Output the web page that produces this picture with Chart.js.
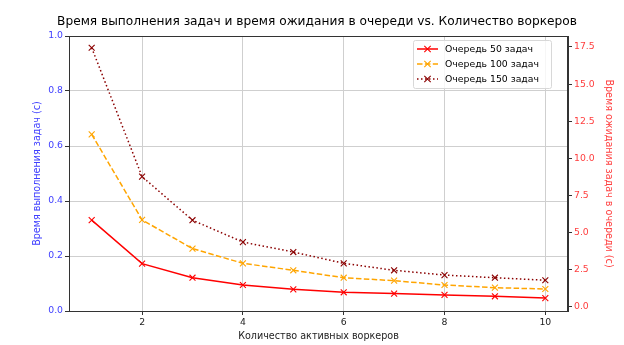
<!DOCTYPE html>
<html>
<head>
<meta charset="utf-8">
<script src="https://cdn.jsdelivr.net/npm/chart.js@4.4.1/dist/chart.umd.min.js"></script>
<style>
  html, body { margin: 0; padding: 0; background: #fff; }
  #wrap { width: 624px; height: 345px; }
</style>
</head>
<body>
<div id="wrap"><canvas id="chart"></canvas></div>
<script>
// данные: количество воркеров и время ожидания в очереди (с)
const workers = [1, 2, 3, 4, 5, 6, 7, 8, 9, 10];
const wait50 = [5.85, 2.92, 1.97, 1.48, 1.19, 0.99, 0.90, 0.81, 0.72, 0.60];
const wait100 = [11.62, 5.86, 3.93, 2.94, 2.47, 1.97, 1.77, 1.48, 1.30, 1.21];
const wait150 = [17.45, 8.77, 5.84, 4.37, 3.70, 2.94, 2.47, 2.15, 1.97, 1.80];
const xTicks = [2, 4, 6, 8, 10];
const rightTicks = [0, 2.5, 5, 7.5, 10, 12.5, 15, 17.5];

const FONT = 'DejaVu Sans';
const TICK = 9.3, LABEL = 9.6;
const toXY = arr => arr.map((v, i) => ({ x: workers[i], y: v }));

// рамка, заголовок и легенда в стиле matplotlib
const decor = {
  id: 'decor',
  afterDraw(chart) {
    const { ctx, chartArea: a } = chart;
    ctx.save();
    ctx.strokeStyle = '#333';
    ctx.lineWidth = 1;
    ctx.strokeRect(Math.round(a.left) + 0.5, Math.round(a.top) + 0.5,
      Math.round(a.right - a.left) - 1, Math.round(a.bottom - a.top));

    ctx.fillStyle = '#000';
    ctx.font = `12.2px "${FONT}"`;
    ctx.textAlign = 'center';
    ctx.textBaseline = 'middle';
    ctx.fillText('Время выполнения задач и время ожидания в очереди vs. Количество воркеров', 317, 22);

    // легенда
    const lx = 413, ly = 40, lw = 138, lh = 48;
    ctx.fillStyle = 'rgba(255,255,255,0.8)';
    ctx.strokeStyle = '#d8d8d8';
    ctx.beginPath();
    ctx.roundRect(lx + 0.5, ly + 0.5, lw, lh, 2);
    ctx.fill();
    ctx.stroke();
    ctx.font = `${TICK}px "${FONT}"`;
    ctx.textAlign = 'left';
    chart.data.datasets.forEach((ds, i) => {
      const y = ly + 9 + i * 15;
      ctx.strokeStyle = ds.borderColor;
      ctx.lineWidth = ds.borderWidth;
      ctx.setLineDash(ds.borderDash || []);
      ctx.beginPath();
      ctx.moveTo(lx + 4, y);
      ctx.lineTo(lx + 25, y);
      ctx.stroke();
      ctx.setLineDash([]);
      ctx.lineWidth = 1.1;
      const cx = lx + 14.5, r = 3.2;
      ctx.beginPath();
      ctx.moveTo(cx - r, y - r); ctx.lineTo(cx + r, y + r);
      ctx.moveTo(cx - r, y + r); ctx.lineTo(cx + r, y - r);
      ctx.stroke();
      ctx.fillStyle = '#000';
      ctx.fillText(ds.label, lx + 32, y + 0.5);
    });
    ctx.restore();
  }
};

const mkSet = (label, data, color, dash) => ({
  label,
  data: toXY(data),
  yAxisID: 'y1',
  borderColor: color,
  backgroundColor: color,
  borderWidth: 1.5,
  borderDash: dash,
  pointStyle: 'crossRot',
  pointRadius: 4.2,
  pointBorderWidth: 1.1,
  pointBorderColor: color,
  tension: 0,
  fill: false
});

new Chart(document.getElementById('chart'), {
  type: 'line',
  data: {
    datasets: [
      mkSet('Очередь 50 задач', wait50, '#ff0000', []),
      mkSet('Очередь 100 задач', wait100, '#ffa500', [5.5, 2.4]),
      mkSet('Очередь 150 задач', wait150, '#8b0000', [1.5, 2.5])
    ]
  },
  options: {
    responsive: true,
    maintainAspectRatio: false,
    animation: false,
    layout: { padding: { top: 36, left: 28, right: 0, bottom: 0 } },
    plugins: { legend: { display: false }, title: { display: false }, tooltip: { enabled: false } },
    scales: {
      x: {
        type: 'linear',
        min: 0.55,
        max: 10.45,
        afterBuildTicks: s => { s.ticks = xTicks.map(v => ({ value: v })); },
        afterFit: s => { s.height = 34; },
        grid: { color: '#cfcfcf', tickColor: '#333', tickLength: 4, drawOnChartArea: true },
        border: { color: '#333' },
        ticks: { color: '#222', font: { family: FONT, size: TICK }, padding: 2 },
        title: { display: true, text: 'Количество активных воркеров', color: '#222',
          font: { family: FONT, size: LABEL }, padding: { top: 0, bottom: 3 } }
      },
      y: {
        position: 'left',
        min: 0,
        max: 1,
        afterFit: s => { s.width = 41; },
        grid: { color: '#cfcfcf', tickColor: '#333', tickLength: 4 },
        border: { color: '#333' },
        ticks: { stepSize: 0.2, color: '#4040ff', font: { family: FONT, size: TICK }, padding: 2,
          callback: v => v.toFixed(1) },
        title: { display: true, text: 'Время выполнения задач (с)', color: '#4040ff',
          font: { family: FONT, size: LABEL }, padding: { top: 4, bottom: 0 } }
      },
      y1: {
        position: 'right',
        min: -0.27,
        max: 18.24,
        afterBuildTicks: s => { s.ticks = rightTicks.map(v => ({ value: v })); },
        afterFit: s => { s.width = 56; },
        grid: { drawOnChartArea: false, tickColor: '#333', tickLength: 4 },
        border: { color: '#333' },
        ticks: { color: '#ff4040', font: { family: FONT, size: TICK }, padding: 2,
          callback: v => v.toFixed(1) },
        title: { display: true, text: 'Время ожидания задач в очереди (с)', color: '#ff4040',
          font: { family: FONT, size: LABEL }, padding: { top: 10, bottom: 0 } }
      }
    }
  },
  plugins: [decor]
});
</script>
</body>
</html>
